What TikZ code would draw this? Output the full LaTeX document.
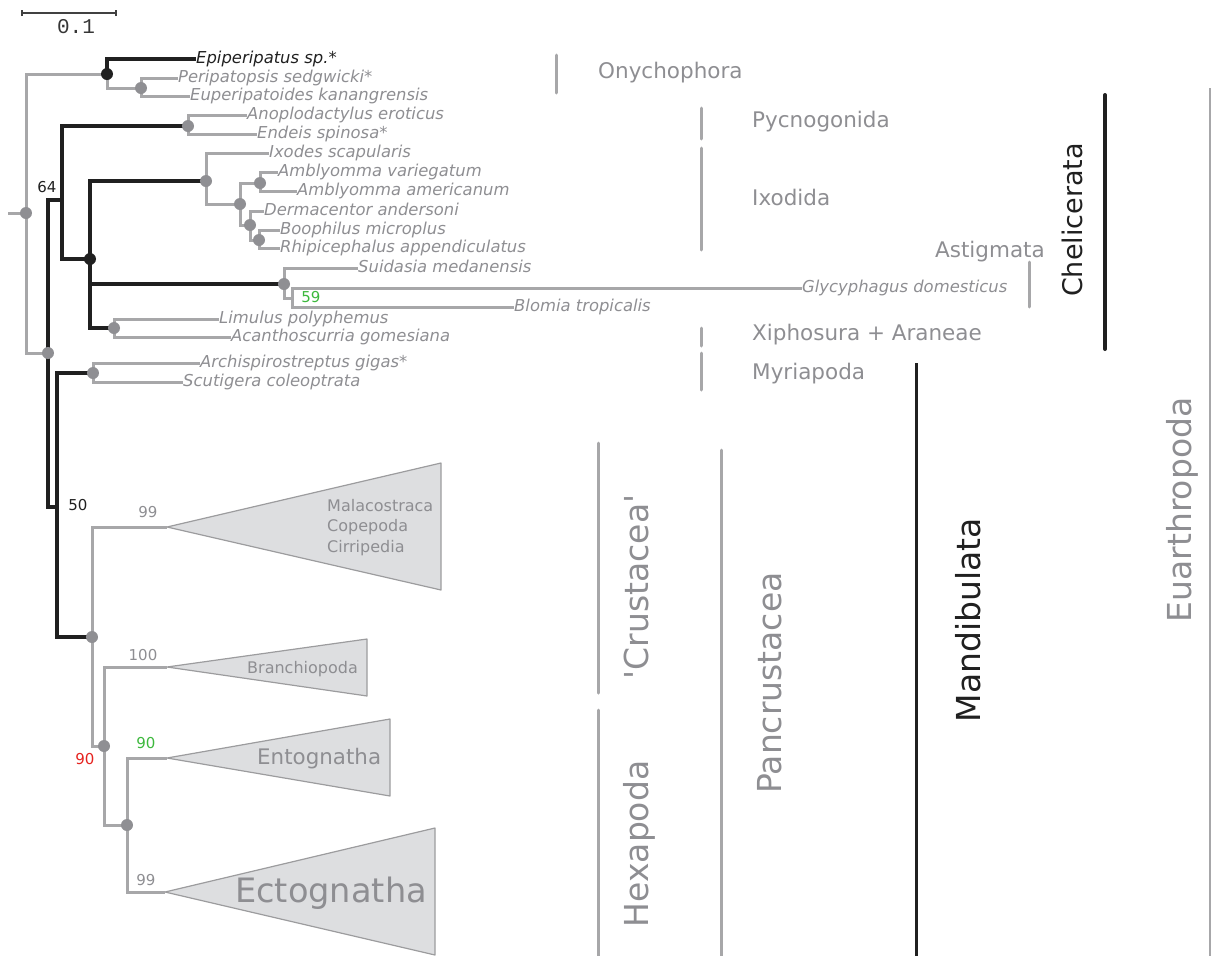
\documentclass[tikz,border=0pt]{standalone}
\usepackage{fontspec}
\setmainfont{DejaVu Sans}
\newfontfamily\scalefont{Liberation Mono}
\definecolor{brgray}{HTML}{A7A7A9}
\definecolor{dotgray}{HTML}{8F8F93}
\definecolor{txtgray}{HTML}{8E8E92}
\definecolor{brblack}{HTML}{202020}
\definecolor{trifill}{HTML}{DDDEE0}
\definecolor{tridraw}{HTML}{9C9C9E}
\definecolor{bsred}{HTML}{E5231F}
\definecolor{bsgreen}{HTML}{3DB83D}
\newcommand{\fsz}[1]{\fontsize{#1}{#1}\selectfont}

\begin{document}
\begin{tikzpicture}[x=1pt,y=-1pt,line join=miter,
  gbr/.style={draw=brgray,line width=3pt},
  bbr/.style={draw=brblack,line width=4.2pt},
  gdot/.style={circle,fill=dotgray,minimum size=12pt,inner sep=0pt},
  bdot/.style={circle,fill=brblack,minimum size=12pt,inner sep=0pt},
  leaf/.style={anchor=west,inner sep=0pt,text=txtgray,font={\fsz{16.4}\itshape},
    text height=13.1pt,text depth=3.3pt},
  boot/.style={inner sep=0pt,text=txtgray,font={\fsz{15}}},
  clade/.style={draw=tridraw,fill=trifill,line width=1.2pt,line join=round},
  tlab/.style={inner sep=0pt,text=txtgray,font={\fsz{16}},text height=11.7pt,text depth=0pt},
  gbar/.style={draw=brgray,line width=3pt,line cap=round},
  glab/.style={inner sep=0pt,anchor=west,text=txtgray,font={\fsz{21.5}},text height=15.7pt,text depth=0pt},
  biglab/.style={inner sep=0pt,rotate=90,text=txtgray,font={\fsz{33}},text height=24pt,text depth=0pt}
]
\useasboundingbox (0,0) rectangle (1211,956);

% ---- scale bar
\coordinate (sbl) at (22,13);
\coordinate (sbr) at (116,13);
\draw[draw=brblack!85,line width=1.8pt] (sbl) -- (sbr);
\draw[draw=brblack!85,line width=1.4pt] ([yshift=-3pt]sbl) -- ([yshift=3pt]sbl);
\draw[draw=brblack!85,line width=1.4pt] ([yshift=-3pt]sbr) -- ([yshift=3pt]sbr);
\node[inner sep=0pt,font={\scalefont\fsz{21}},text=brblack!90] (sbtxt) at (76,27) {0.1};

% ---- internal nodes of the tree
\coordinate (rs) at (8,213);
\coordinate (root) at (26,213);
\coordinate (ony) at (107,74);
\coordinate (onyb) at (141,88);
\coordinate (eua) at (48,353);
\coordinate (che) at (62,200);
\coordinate (pyc) at (188,126);
\coordinate (ara) at (90,259);
\coordinate (ixo) at (206,181);
\coordinate (ixob) at (240,204);
\coordinate (amb) at (260,183);
\coordinate (ixoc) at (250,225);
\coordinate (ixod) at (259,240);
\coordinate (ast) at (284,284);
\coordinate (astb) at (292,298);
\coordinate (xar) at (114,328);
\coordinate (man) at (57,507);
\coordinate (myr) at (93,373);
\coordinate (pan) at (92,637);
\coordinate (panb) at (104,746);
\coordinate (hex) at (127,825);
\coordinate (mal) at (167,527);
\coordinate (bra) at (167,667);
\coordinate (ent) at (167,758);
\coordinate (ect) at (165,892);

% ---- terminal taxa
\node[leaf,text=brblack] (epi) at (196,59) {Epiperipatus sp.*};
\node[leaf] (pse) at (178,78) {Peripatopsis sedgwicki*};
\node[leaf] (eup) at (190,96) {Euperipatoides kanangrensis};
\node[leaf] (ano) at (247,115) {Anoplodactylus eroticus};
\node[leaf] (end) at (257,134) {Endeis spinosa*};
\node[leaf] (ixs) at (269,153) {Ixodes scapularis};
\node[leaf] (amv) at (278,172) {Amblyomma variegatum};
\node[leaf] (ama) at (297,191) {Amblyomma americanum};
\node[leaf] (der) at (264,211) {Dermacentor andersoni};
\node[leaf] (boo) at (280,230) {Boophilus microplus};
\node[leaf] (rhi) at (280,248) {Rhipicephalus appendiculatus};
\node[leaf] (sui) at (358,268) {Suidasia medanensis};
\node[leaf] (gly) at (802,288) {Glycyphagus domesticus};
\node[leaf] (blo) at (514,307) {Blomia tropicalis};
\node[leaf] (lim) at (219,319) {Limulus polyphemus};
\node[leaf] (aca) at (231,337) {Acanthoscurria gomesiana};
\node[leaf] (arc) at (200,363) {Archispirostreptus gigas*};
\node[leaf] (scu) at (183,382) {Scutigera coleoptrata};

% ---- collapsed clades
\draw[clade] (mal) -- (441,463) -- (441,590) -- cycle;
\draw[clade] (bra) -- (367,639) -- (367,696) -- cycle;
\draw[clade] (ent) -- (390,719) -- (390,796) -- cycle;
\draw[clade] (ect) -- (435,828) -- (435,955) -- cycle;
\node[tlab,anchor=west] (tmal) at (327,506) {Malacostraca};
\node[tlab,anchor=west] (tcop) at (327,526) {Copepoda};
\node[tlab,anchor=west] (tcir) at (327,547) {Cirripedia};
\node[tlab,anchor=east] (tbra) at (358,668) {Branchiopoda};
\node[tlab,anchor=west,font={\fsz{21.4}},text height=15.6pt] (tent) at (257,757) {Entognatha};
\node[tlab,anchor=west,font={\fsz{33.6}},text height=24.5pt] (tect) at (235,890) {Ectognatha};

% ---- grey branches
\draw[gbr] (rs) -- (root);
\draw[gbr] (root) |- (ony);
\draw[gbr] (root) |- (eua);
\draw[gbr] (ony) |- (onyb);
\draw[gbr] (onyb) |- (pse.west);
\draw[gbr] (onyb) |- (eup.west);
\draw[gbr] (pyc) |- (ano.west);
\draw[gbr] (pyc) |- (end.west);
\draw[gbr] (ixo) |- (ixs.west);
\draw[gbr] (ixo) |- (ixob);
\draw[gbr] (ixob) |- (amb);
\draw[gbr] (ixob) |- (ixoc);
\draw[gbr] (amb) |- (amv.west);
\draw[gbr] (amb) |- (ama.west);
\draw[gbr] (ixoc) |- (der.west);
\draw[gbr] (ixoc) |- (ixod);
\draw[gbr] (ixod) |- (boo.west);
\draw[gbr] (ixod) |- (rhi.west);
\draw[gbr] (ast) |- (sui.west);
\draw[gbr] (ast) |- (astb);
\draw[gbr] (astb) |- (gly.west);
\draw[gbr] (astb) |- (blo.west);
\draw[gbr] (xar) |- (lim.west);
\draw[gbr] (xar) |- (aca.west);
\draw[gbr] (myr) |- (arc.west);
\draw[gbr] (myr) |- (scu.west);
\draw[gbr] (pan) |- (mal);
\draw[gbr] (pan) |- (panb);
\draw[gbr] (panb) |- (bra);
\draw[gbr] (panb) |- (hex);
\draw[gbr] (hex) |- (ent);
\draw[gbr] (hex) |- (ect);

% ---- black branches
\draw[bbr] (ony) |- (epi.west);
\draw[bbr] (eua) |- (che);
\draw[bbr] (eua) |- (man);
\draw[bbr] (che) |- (pyc);
\draw[bbr] (che) |- (ara);
\draw[bbr] (ara) |- (ixo);
\draw[bbr] (ara) |- (ast);
\draw[bbr] (ara) |- (xar);
\draw[bbr] (man) |- (myr);
\draw[bbr] (man) |- (pan);

% ---- node markers
\node[gdot] (d-root) at (root) {};
\node[bdot] (d-ony) at (ony) {};
\node[gdot] (d-onyb) at (onyb) {};
\node[gdot] (d-eua) at (eua) {};
\node[gdot] (d-pyc) at (pyc) {};
\node[bdot] (d-ara) at (ara) {};
\node[gdot] (d-ixo) at (ixo) {};
\node[gdot] (d-ixob) at (ixob) {};
\node[gdot] (d-amb) at (amb) {};
\node[gdot] (d-ixoc) at (ixoc) {};
\node[gdot] (d-ixod) at (ixod) {};
\node[gdot] (d-ast) at (ast) {};
\node[gdot] (d-xar) at (xar) {};
\node[gdot] (d-myr) at (myr) {};
\node[gdot] (d-pan) at (pan) {};
\node[gdot] (d-panb) at (panb) {};
\node[gdot] (d-hex) at (hex) {};

% ---- support values
\node[boot,text=brblack] (b64) at (47,187) {64};
\node[boot,text=brblack] (b50) at (78,505) {50};
\node[boot,text=bsgreen] (b59) at (311,297) {59};
\node[boot] (b99a) at (148,512) {99};
\node[boot] (b100) at (143,655) {100};
\node[boot,text=bsred] (b90r) at (85,759) {90};
\node[boot,text=bsgreen] (b90g) at (146,743) {90};
\node[boot] (b99b) at (146,880) {99};

% ---- clade brackets and names
\draw[gbar] (556,55) -- (556,93);
\node[glab] (lony) at (598,71) {Onychophora};
\draw[gbar] (701,108) -- (701,139);
\node[glab] (lpyc) at (752,120) {Pycnogonida};
\draw[gbar] (701,148) -- (701,250);
\node[glab] (lixo) at (752,198) {Ixodida};
\node[glab,anchor=east] (last) at (1045,250) {Astigmata};
\draw[gbar] (1029,262) -- (1029,307);
\draw[gbar] (701,328) -- (701,346);
\node[glab] (lxar) at (752,333) {Xiphosura + Araneae};
\draw[gbar] (701,353) -- (701,390);
\node[glab] (lmyr) at (752,372) {Myriapoda};

\draw[draw=brblack,line width=4pt,line cap=round] (1105,95) -- (1105,349);
\node[biglab,text=brblack,font={\fsz{27}},text height=19.7pt] (lche) at (1073,220) {Chelicerata};

\draw[gbar] (598,443) -- (598,693);
\node[biglab] (lcru) at (636,587) {\textquotesingle Crustacea\textquotesingle};
\draw[gbar] (598,710) -- (598,956);
\node[biglab] (lhex) at (636,844) {Hexapoda};
\draw[gbar] (721,450) -- (721,956);
\node[biglab] (lpan) at (769,683) {Pancrustacea};
\draw[draw=brblack,line width=3pt] (916,363) -- (916,956);
\node[biglab,text=brblack] (lman) at (968,620) {Mandibulata};
\draw[draw=brgray,line width=1.5pt] (1210,88) -- (1210,956);
\node[biglab] (leua) at (1179,510) {Euarthropoda};
\end{tikzpicture}
\end{document}
